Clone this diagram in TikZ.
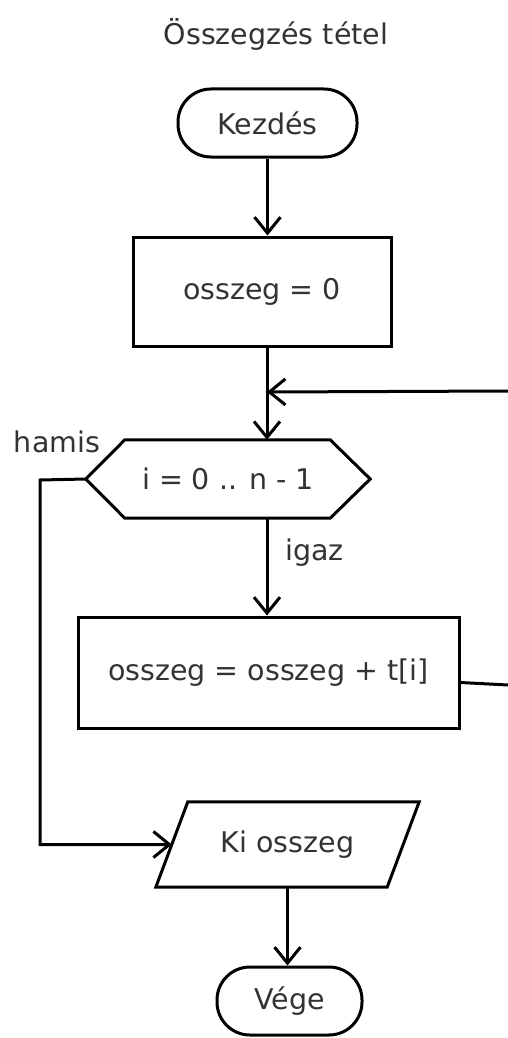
\documentclass[tikz,border=0pt]{standalone}
\usepackage{fontspec}
\setmainfont{DejaVu Sans}
\usetikzlibrary{arrows.meta}
\begin{document}
\begin{tikzpicture}[x=1pt,y=-1pt,
  every node/.style={font=\fontsize{28.5}{34}\selectfont, text=black!80, inner sep=0pt},
  lw/.style={line width=3pt},
  terminal/.style={lw, draw, rounded corners=33pt, minimum height=68pt},
  procbox/.style={lw, draw, rectangle},
  shapebox/.style={draw=none, rectangle},
  arr/.style={lw, -{Straight Barb[length=16pt,width=26pt,line width=3pt]}},
  conn/.style={lw},
  lbl/.style={anchor=base}]
\useasboundingbox (0,0) rectangle (508,1038);
\fill[white] (0,0) rectangle (508,1038);

\node[lbl] (title) at (276,45) {Összegzés tétel};

\node[terminal, minimum width=179pt] (start) at (267.5,123) {Kezdés};
\node[procbox, minimum width=258pt, minimum height=109pt] (init) at (262,291.5) {osszeg = 0};

\node[shapebox, minimum width=284pt, minimum height=78pt] (cond) at (228,479) {i = 0 .. n - 1};
\draw[lw, line join=miter] (cond.west) -- ([xshift=39pt]cond.north west) -- ([xshift=-40pt]cond.north east)
  -- (cond.east) -- ([xshift=-40pt]cond.south east) -- ([xshift=39pt]cond.south west) -- cycle;

\node[procbox, minimum width=381pt, minimum height=111pt] (body) at (268.5,672.5) {osszeg = osszeg + t[i]};

\node[shapebox, minimum width=231pt, minimum height=85pt] (out) at (287.5,844.5) {Ki osszeg};
\draw[lw, line join=miter] ([xshift=-16pt]out.south west) -- ([xshift=16pt]out.north west)
  -- ([xshift=16pt]out.north east) -- ([xshift=-16pt]out.south east) -- cycle;

\node[terminal, minimum width=145pt] (end) at (289.5,1001) {Vége};

\node[lbl] (hamis) at (57,452) {hamis};
\node[lbl] (igaz) at (314.5,560) {igaz};

\coordinate (join) at (267,392);
\coordinate (loopT) at (508,391);
\coordinate (loopB) at (508,685);
\coordinate (fcorner) at (40,480);

\draw[arr] (start.south) -- (start.south |- init.north);
\draw[arr] (join |- init.south) -- (join |- cond.north);
\draw[arr] (loopT) -- (join);
\draw[arr] (join |- cond.south) -- (join |- body.north);
\draw[conn] ([yshift=-10pt]body.east) -- (loopB);
\draw[arr, line join=miter] (cond.west) -- (fcorner) |- (out.west);
\draw[arr] (out.south) -- (out.south |- end.north);
\end{tikzpicture}
\end{document}
